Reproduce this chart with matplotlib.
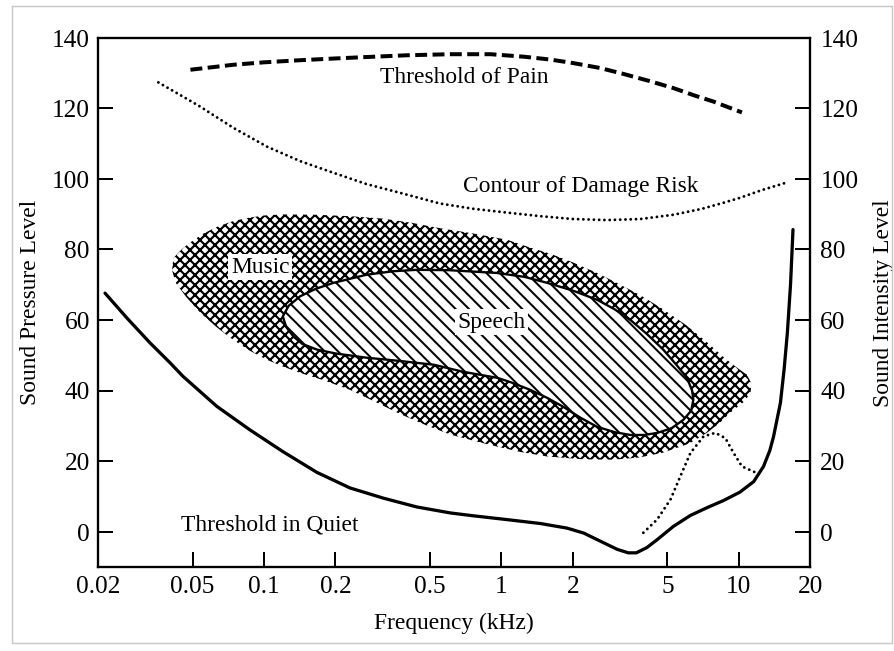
import matplotlib
matplotlib.use("Agg")
import matplotlib.pyplot as plt
from matplotlib.ticker import NullLocator
from matplotlib.patches import Rectangle

plt.rcParams['font.family'] = ['Liberation Serif', 'DejaVu Serif']
plt.rcParams['lines.scale_dashes'] = False

# ---- data (frequency in kHz, level in dB) ----
quiet_f = [0.0214, 0.0265, 0.0331, 0.04, 0.0456, 0.0633, 0.087, 0.12, 0.167, 0.23,
           0.318, 0.44, 0.61, 0.76, 1.06, 1.46, 1.89, 2.22, 2.61, 3.07, 3.42, 3.7,
           4.1, 4.52, 5.3, 6.25, 7.4, 8.6, 10.1, 11.55, 12.7, 13.5, 14.0, 14.96,
           15.5, 16.0, 16.5, 16.9]
quiet_db = [67.6, 60.5, 53.5, 48.0, 44.0, 35.5, 28.9, 22.7, 16.8, 12.4,
            9.5, 7.0, 5.3, 4.5, 3.4, 2.3, 1.0, -0.4, -2.7, -5.0, -6.0, -6.0,
            -4.5, -2.3, 1.5, 4.6, 6.9, 8.8, 11.2, 14.2, 18.5, 23.0, 27.0, 36.5,
            45.9, 56.3, 70.0, 85.6]

blip_f = [3.96, 4.52, 5.15, 5.67, 6.25, 7.1, 7.96, 8.77, 9.5, 10.3, 11.9]
blip_db = [-0.3, 3.4, 9.1, 15.7, 22.3, 27.0, 28.0, 26.5, 22.3, 18.5, 16.6]

pain_f = [0.049, 0.074, 0.1, 0.142, 0.2, 0.27, 0.4, 0.61, 0.9, 1.24, 1.6, 2.0,
          2.6, 3.27, 4.2, 5.3, 6.5, 7.8, 9.0, 10.3]
pain_db = [130.9, 132.3, 133.0, 133.6, 134.1, 134.5, 135.0, 135.3, 135.3, 134.6,
           133.8, 132.8, 131.4, 129.7, 127.7, 125.7, 123.6, 121.9, 120.3, 118.8]

damage_f = [0.0359, 0.045, 0.054, 0.074, 0.103, 0.142, 0.196, 0.27, 0.375, 0.55,
            0.76, 1.06, 1.46, 2.0, 2.78, 3.85, 5.3, 7.0, 8.6, 10.1, 12.5, 16.0]
damage_db = [127.3, 123.5, 120.4, 114.5, 109.1, 105.0, 101.7, 98.5, 96.0, 93.0,
             91.5, 90.4, 89.4, 88.6, 88.3, 88.6, 89.8, 91.5, 93.2, 94.6, 96.8, 99.0]

music_f = [0.0415, 0.045, 0.049, 0.055, 0.063, 0.074, 0.087, 0.1, 0.12, 0.167,
           0.23, 0.318, 0.42, 0.55, 0.76, 1.06, 1.32, 1.6, 2.0, 2.53, 3.1, 3.85,
           4.8, 6.0, 7.4, 8.6, 9.8, 10.8, 11.3, 11.2, 10.6, 9.8, 9.2, 8.3, 7.4,
           6.2, 4.8, 3.8, 2.96, 2.2, 1.56, 1.2, 0.96, 0.76, 0.61, 0.48, 0.375,
           0.3, 0.23, 0.18, 0.142, 0.12, 0.103, 0.087, 0.074, 0.063, 0.054,
           0.047, 0.0425, 0.041]
music_db = [77.5, 80.0, 82.0, 84.3, 86.3, 88.0, 89.0, 89.6, 89.9, 89.8,
            89.4, 88.7, 87.5, 86.0, 84.5, 82.7, 80.5, 78.8, 76.3, 73.3, 70.3, 67.0,
            63.0, 58.5, 53.5, 49.5, 46.5, 44.5, 42.0, 39.5, 37.0, 35.2, 33.7, 30.8, 28.2,
            25.0, 22.4, 21.0, 20.4, 20.5, 21.3, 22.6, 24.1, 25.8, 27.5, 30.2, 33.3,
            36.5, 40.2, 42.8, 45.0, 46.8, 48.7, 51.3, 54.4, 58.0, 62.0,
            66.5, 70.5, 74.0]

speech_f = [0.12, 0.127, 0.142, 0.165, 0.196, 0.27, 0.35, 0.44, 0.6, 0.96, 1.25,
            1.56, 2.0, 2.53, 3.0, 3.49, 4.1, 4.8, 5.5, 6.05, 6.35, 6.43, 6.3, 5.84,
            5.2, 4.54, 4.0, 3.49, 3.0, 2.53, 2.15, 1.82, 1.55, 1.32, 1.1, 0.96,
            0.69, 0.52, 0.37, 0.27, 0.2, 0.167, 0.145, 0.133, 0.124]
speech_db = [61.0, 64.0, 66.7, 68.8, 70.5, 72.8, 73.8, 74.2, 74.1, 73.3, 72.2,
             70.5, 68.3, 65.7, 63.0, 60.0, 56.0, 51.6, 47.0, 43.5, 40.0, 37.4, 34.3, 31.7,
             29.3, 28.0, 27.4, 27.4, 28.2, 29.7, 32.3, 35.4, 38.0, 40.2, 42.3, 43.6,
             45.3, 47.3, 48.4, 49.3, 50.5, 51.6, 53.2, 55.3, 58.0]

xticks = [0.02, 0.05, 0.1, 0.2, 0.5, 1, 2, 5, 10, 20]
xtick_labels = ['0.02', '0.05', '0.1', '0.2', '0.5', '1', '2', '5', '10', '20']
yticks = [0, 20, 40, 60, 80, 100, 120, 140]

DPI = 120  # hatch tile = dpi pixels, chosen to match the hatch spacing
fig = plt.figure(figsize=(894.4 / DPI, 651.4 / DPI), dpi=DPI)
ax = fig.add_axes([98 / 894, 1 - 567 / 651, (810 - 98) / 894, (567 - 38) / 651])

# regions (hatch line width differs between the two)
with plt.rc_context({'hatch.linewidth': 1.3}):
    music = ax.fill(music_f, music_db, facecolor='none', edgecolor='black',
                    linewidth=0, hatch='xxxx', zorder=1)[0]
with plt.rc_context({'hatch.linewidth': 1.2}):
    speech = ax.fill(speech_f, speech_db, facecolor='white', edgecolor='black',
                     linewidth=1.4, hatch='\\' * 3, zorder=2)[0]
if hasattr(music, 'set_hatch_linewidth'):
    music.set_hatch_linewidth(1.3)
    speech.set_hatch_linewidth(1.2)

# curves
ax.plot(quiet_f, quiet_db, color='black', lw=1.95, zorder=3,
        solid_capstyle='round', solid_joinstyle='round')
ax.plot(blip_f, blip_db, color='black', lw=1.75, ls=(0, (0.01, 3.25)),
        dash_capstyle='round', zorder=3)
ax.plot(pain_f, pain_db, color='black', lw=2.4, ls=(0, (7.15, 3.25)), zorder=3)
ax.plot(damage_f, damage_db, color='black', lw=1.75, ls=(0, (0.01, 3.15)),
        dash_capstyle='round', zorder=3)

# labels inside
fs = 14.1
ax.text(0.697, 128.9, 'Threshold of Pain', fontsize=fs, ha='center', va='center')
ax.text(2.15, 98.0, 'Contour of Damage Risk', fontsize=fs, ha='center', va='center')
ax.text(0.0963, 75.1, 'Music', fontsize=fs, ha='center', va='center', zorder=4,
        bbox=dict(fc='white', ec='none', pad=1.6))
ax.text(0.91, 59.5, 'Speech', fontsize=fs, ha='center', va='center', zorder=4,
        bbox=dict(fc='white', ec='none', pad=1.6))
ax.text(0.106, 2.0, 'Threshold in Quiet', fontsize=fs, ha='center', va='center')

ax.set_xscale('log')
ax.set_xlim(0.02, 20)
ax.set_ylim(-10, 140)
ax.set_xticks(xticks)
ax.set_xticklabels(xtick_labels)
ax.xaxis.set_minor_locator(NullLocator())
ax.set_yticks(yticks)
ax.tick_params(axis='both', direction='in', length=9.0, width=1.2, labelsize=15.2)
ax.tick_params(axis='x', pad=5.4, top=False)
ax.tick_params(axis='y', pad=4.9)
for s in ax.spines.values():
    s.set_linewidth(1.3)

ax.set_xlabel('Frequency (kHz)', fontsize=fs, labelpad=8.7)
ax.set_ylabel('Sound Pressure Level', fontsize=fs, labelpad=6.5)

ax2 = ax.twinx()
ax2.set_ylim(-10, 140)
ax2.set_yticks(yticks)
ax2.tick_params(axis='y', direction='in', length=9.0, width=1.2, labelsize=15.2, pad=6.0)
ax2.set_ylabel('Sound Intensity Level', fontsize=fs, labelpad=8.7)
for s in ax2.spines.values():
    s.set_linewidth(1.3)

# faint frame of the scanned page
fig.patches.append(Rectangle((12 / 894, 1 - 643 / 651), 880 / 894, 637 / 651,
                             transform=fig.transFigure, fill=False,
                             edgecolor='#c8c8c8', linewidth=0.87))

fig.savefig('out.png', dpi=DPI)
